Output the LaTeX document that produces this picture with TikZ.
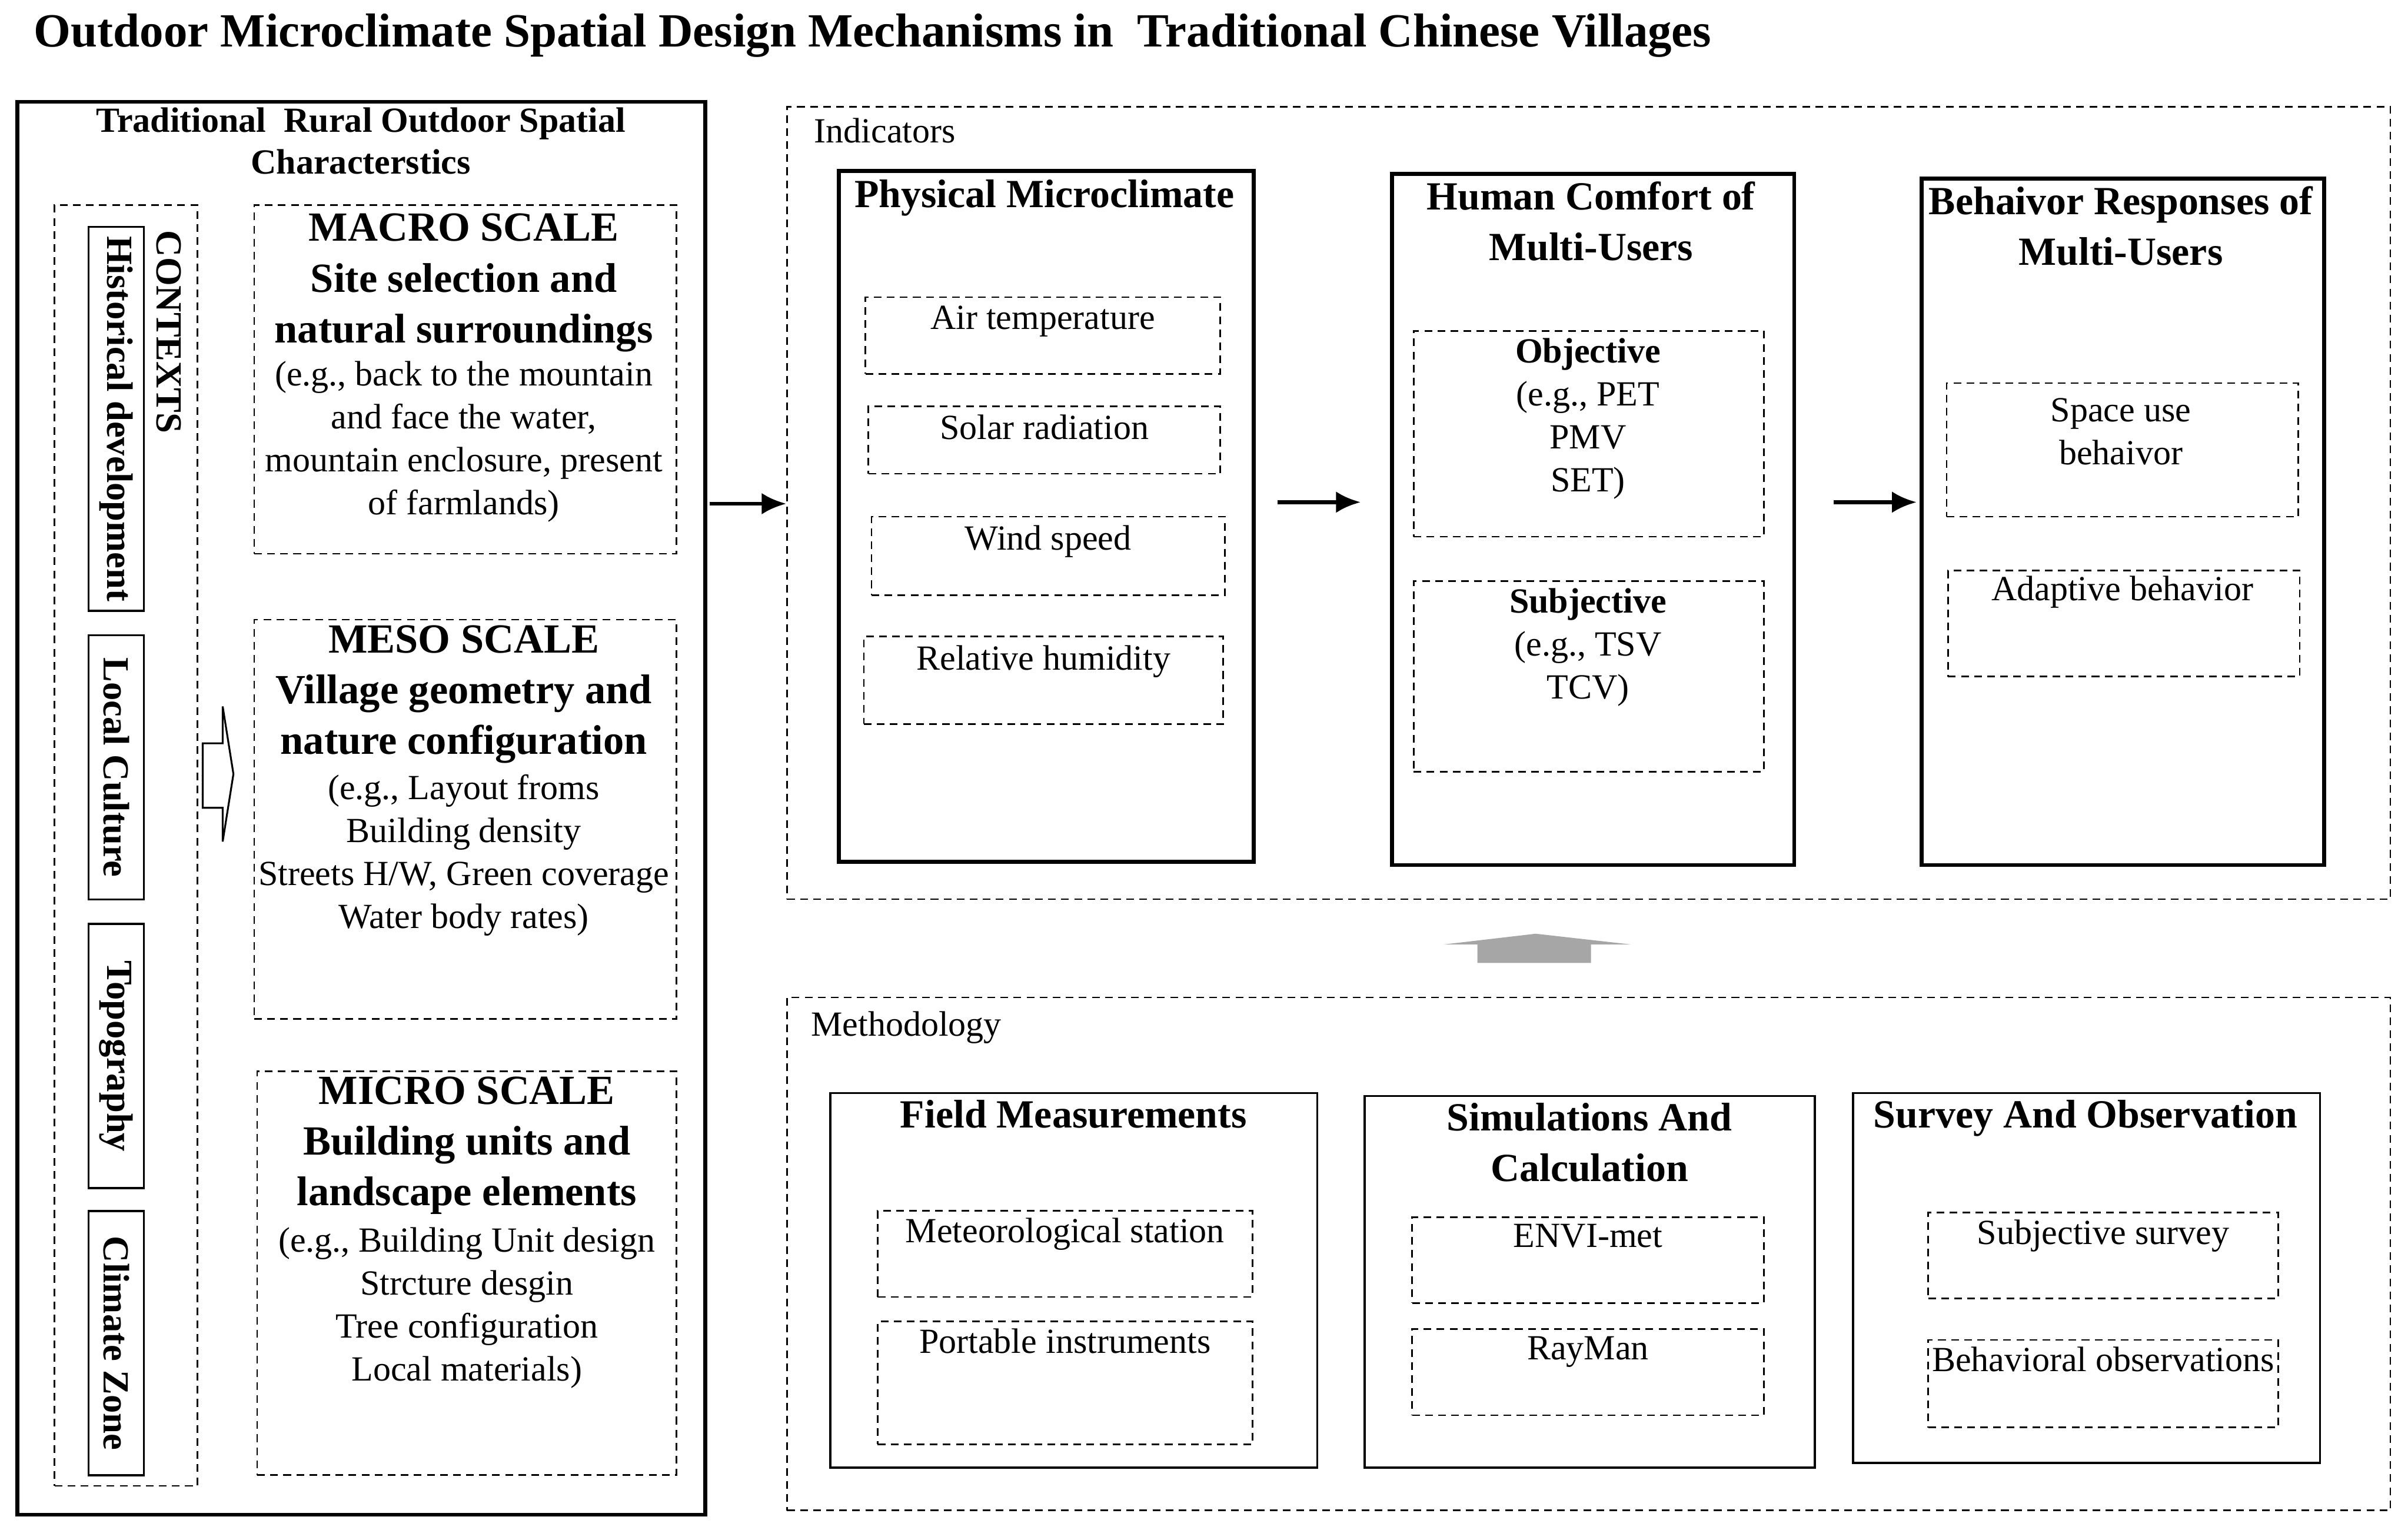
\documentclass[tikz,border=0pt]{standalone}
\usepackage{fontspec}
\setmainfont{Liberation Serif}
\usetikzlibrary{arrows.meta}
\begin{document}
\begin{tikzpicture}[x=1pt,y=-1pt,
  solid box/.style={draw,line width=2.6pt,anchor=north west,inner sep=0},
  thin box/.style={draw,line width=1.4pt,anchor=north west,inner sep=0},
  dbox/.style={draw,line width=1pt,dash pattern=on 5pt off 3.5pt,anchor=north west,inner sep=0},
  hb/.style={font=\bfseries\fontsize{27}{33}\selectfont,align=center,inner sep=0,anchor=north,yshift=-4pt},
  hs/.style={font=\bfseries\fontsize{26}{33}\selectfont,align=center,inner sep=0,anchor=north,yshift=-4pt},
  tx/.style={font=\fontsize{23}{28}\selectfont,align=center,inner sep=0,anchor=north,yshift=-3pt},
  rot/.style={font=\bfseries\fontsize{24}{24}\selectfont,rotate=-90,inner sep=0},
  arr/.style={line width=2.6pt,-{Latex[length=16pt,width=14pt]}}]
\useasboundingbox (0,0) rectangle (1568,996);
\node[font=\bfseries\fontsize{31}{34}\selectfont,anchor=west,inner sep=0] (title) at (22,23) {Outdoor Microclimate Spatial Design Mechanisms in\ \ Traditional Chinese Villages};
% left panel
\node[solid box,minimum width=448,minimum height=920] (left) at (10,65) {};
\node[font=\bfseries\fontsize{23}{27}\selectfont,align=center,inner sep=0,anchor=north] (lh) at (235,70) {Traditional\ \ Rural Outdoor Spatial\\Characterstics};
\node[dbox,minimum width=93,minimum height=834] (ctx) at (35,133) {};
\node[rot,anchor=west] (ctxt) at (110,150) {CONTEXTS};
\foreach \n/\y/\h/\t in {hist/147/250/Historical development,cult/413/172/Local Culture,topo/601/172/Topography,clim/788/172/Climate Zone}{
  \node[thin box,minimum width=36,minimum height=\h] (\n) at (57,\y) {};
  \node[rot] at (\n.center) {\t};
}
\draw[line width=1.2pt] (132,484) -- (145,484) -- (145,460) -- (152,504) -- (145,548) -- (145,526) -- (132,526) -- cycle;
\node[dbox,minimum width=275,minimum height=227] (macro) at (165,133) {};
\node[hb] (macroh) at (302,135) {MACRO SCALE\\Site selection and\\natural surroundings};
\node[tx] (macrot) at (302,232) {(e.g., back to the mountain\\and face the water,\\mountain enclosure, present\\of farmlands)};
\node[dbox,minimum width=275,minimum height=260] (meso) at (165,403) {};
\node[hb] (mesoh) at (302,403) {MESO SCALE\\Village geometry and\\nature configuration};
\node[tx] (mesot) at (302,501) {(e.g., Layout froms\\Building density\\Streets H/W, Green coverage\\Water body rates)};
\node[dbox,minimum width=273,minimum height=263] (micro) at (167,697) {};
\node[hb] (microh) at (304,697) {MICRO SCALE\\Building units and\\landscape elements};
\node[tx] (microt) at (304,796) {(e.g., Building Unit design\\Strcture desgin\\Tree configuration\\Local materials)};
% indicators
\node[dbox,minimum width=1044,minimum height=516] (ind) at (512,69) {};
\node[font=\fontsize{23}{24}\selectfont,anchor=west,inner sep=0] (indl) at (530,85) {Indicators};
\coordinate (a1s) at (462,328); \coordinate (a1e) at (512,328);
\draw[arr] (a1s) -- (a1e);
\node[solid box,minimum width=270,minimum height=450] (phys) at (545,110) {};
\node[hs] (physh) at (680,113) {Physical Microclimate};
\foreach \n/\x/\y/\w/\h/\t in {air/563/193/231/50/Air temperature,sol/565/264/229/44/Solar radiation,wind/567/336/230/51/Wind speed,hum/562/414/234/57/Relative humidity}{
  \node[dbox,minimum width=\w,minimum height=\h] (\n) at (\x,\y) {};
  \node[tx] at ([yshift=-3]\n.north) {\t};
}
\coordinate (a2s) at (832,327); \coordinate (a2e) at (886,327);
\draw[arr] (a2s) -- (a2e);
\node[solid box,minimum width=262,minimum height=450] (hum2) at (905,112) {};
\node[hs] (humh) at (1036,114) {Human Comfort of\\Multi-Users};
\node[dbox,minimum width=228,minimum height=134] (obj) at (920,215) {};
\node[tx,font=\bfseries\fontsize{23}{28}\selectfont] (objh) at (1034,217) {Objective};
\node[tx] (objt) at (1034,245) {(e.g., PET\\PMV\\SET)};
\node[dbox,minimum width=228,minimum height=124] (subj) at (920,378) {};
\node[tx,font=\bfseries\fontsize{23}{28}\selectfont] (subjh) at (1034,380) {Subjective};
\node[tx] (subjt) at (1034,408) {(e.g., TSV\\TCV)};
\coordinate (a3s) at (1194,327); \coordinate (a3e) at (1248,327);
\draw[arr] (a3s) -- (a3e);
\node[solid box,minimum width=262,minimum height=447] (beh) at (1250,115) {};
\node[hs] (behh) at (1381,117) {Behaivor Responses of\\Multi-Users};
\node[dbox,minimum width=229,minimum height=87] (space) at (1267,249) {};
\node[tx] (spacet) at (1381,256) {Space use\\behaivor};
\node[dbox,minimum width=229,minimum height=69] (adapt) at (1268,371) {};
\node[tx] (adaptt) at (1382,372) {Adaptive behavior};
% gray arrow
\fill[gray!70] (940,615) -- (1000,608) -- (1062,615) -- (1036,615) -- (1036,627) -- (962,627) -- (962,615) -- cycle;
% methodology
\node[dbox,minimum width=1044,minimum height=334] (meth) at (512,649) {};
\node[font=\fontsize{23}{24}\selectfont,anchor=west,inner sep=0] (methl) at (528,669) {Methodology};
\node[thin box,minimum width=317,minimum height=244] (field) at (540,711) {};
\node[hs] (fieldh) at (699,712) {Field Measurements};
\node[thin box,minimum width=293,minimum height=242] (sim) at (888,713) {};
\node[hs] (simh) at (1035,714) {Simulations And\\Calculation};
\node[thin box,minimum width=304,minimum height=241] (surv) at (1206,711) {};
\node[hs] (survh) at (1358,712) {Survey And Observation};
\foreach \n/\x/\y/\w/\h/\t in {met/571/788/244/56/Meteorological station,port/571/860/244/80/Portable instruments,envi/919/792/229/56/ENVI-met,ray/919/865/229/56/RayMan,ssur/1255/789/228/56/Subjective survey,bobs/1255/872/228/57/Behavioral observations}{
  \node[dbox,minimum width=\w,minimum height=\h] (\n) at (\x,\y) {};
  \node[tx] at ([yshift=-2]\n.north) {\t};
}
\end{tikzpicture}
\end{document}
